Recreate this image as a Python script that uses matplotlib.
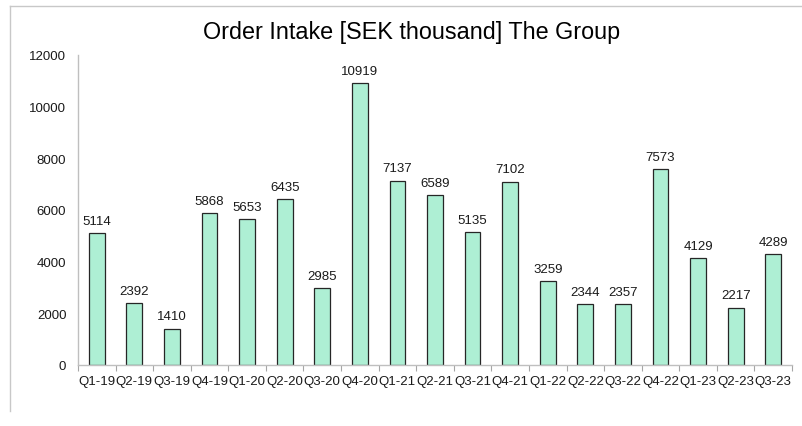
import matplotlib
matplotlib.use("Agg")
import matplotlib.pyplot as plt
from matplotlib.lines import Line2D
import numpy as np

plt.rcParams['font.family'] = ['Liberation Sans', 'DejaVu Sans']

quarters = ["Q1-19", "Q2-19", "Q3-19", "Q4-19", "Q1-20", "Q2-20", "Q3-20", "Q4-20",
            "Q1-21", "Q2-21", "Q3-21", "Q4-21", "Q1-22", "Q2-22", "Q3-22", "Q4-22",
            "Q1-23", "Q2-23", "Q3-23"]
order_intake = [5114, 2392, 1410, 5868, 5653, 6435, 2985, 10919,
                7137, 6589, 5135, 7102, 3259, 2344, 2357, 7573,
                4129, 2217, 4289]
y_ticks = [0, 2000, 4000, 6000, 8000, 10000, 12000]

fig = plt.figure(figsize=(8.02, 4.27), dpi=100)
ax = fig.add_axes([78/802, 1-366/427, (792-78)/802, (366-56)/427])

x = np.arange(len(quarters))
ax.bar(x, order_intake, width=0.42, color="#AEEFD4", edgecolor="#262626", linewidth=0.9)
for xi, v in zip(x, order_intake):
    ax.annotate(str(v), (xi, v), xytext=(0, 4.5), textcoords="offset points",
                ha="center", va="bottom", fontsize=9.5, color="#1a1a1a")

ax.set_xlim(-0.5, len(quarters) - 0.5)
ax.set_ylim(0, 12000)
ax.set_yticks(y_ticks)
ax.set_yticklabels([str(t) for t in y_ticks])
ax.set_xticks(x)
ax.set_xticklabels(quarters)
ax.set_xticks(np.arange(len(quarters) + 1) - 0.5, minor=True)
ax.tick_params(axis="x", which="major", length=0, labelsize=9.5, pad=7.5, colors="#1a1a1a")
ax.tick_params(axis="x", which="minor", length=4, color="#a6a6a6", width=0.8)
ax.tick_params(axis="y", length=0, labelsize=9.5, pad=8.4, colors="#1a1a1a")

for s in ["top", "right"]:
    ax.spines[s].set_visible(False)
for s in ["left", "bottom"]:
    ax.spines[s].set_color("#bfbfbf")
    ax.spines[s].set_linewidth(1.0)

fig.text(412/802, 1-32/427, "Order Intake [SEK thousand] The Group", ha="center", va="center",
         fontsize=16.8, color="#000000")

# outer frame lines (partial border)
fig.add_artist(Line2D([10/802, 1.0], [1-7/427, 1-7/427], transform=fig.transFigure,
                      color="#c8c8c8", linewidth=1.0))
fig.add_artist(Line2D([10/802, 10/802], [1-7/427, 1-412/427], transform=fig.transFigure,
                      color="#c8c8c8", linewidth=1.0))

fig.savefig("out.png", dpi=100)
